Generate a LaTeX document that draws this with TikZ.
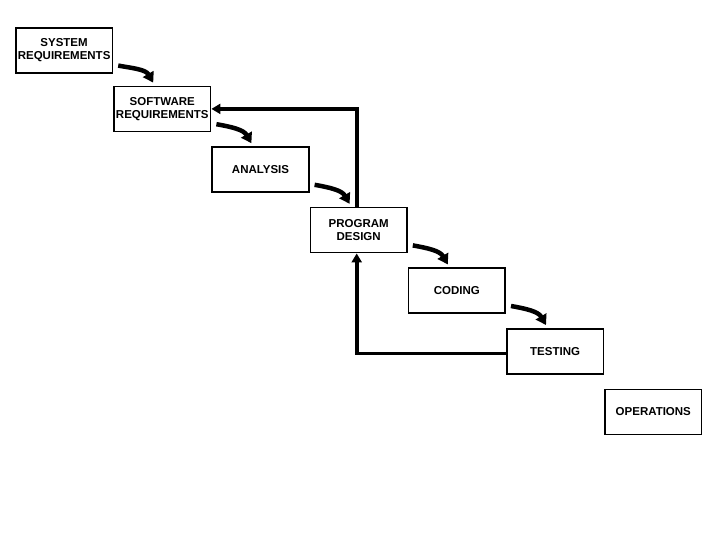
\documentclass[tikz,border=0pt]{standalone}
\usepackage{fontspec}
\setmainfont{Liberation Sans}
\usetikzlibrary{arrows.meta,positioning}

\begin{document}
\begin{tikzpicture}[
  x=1pt,y=-1pt,
  node distance=14pt and 0pt,
  stage/.style={draw,line width=1.6pt,align=center,minimum width=96.6pt,minimum height=45pt,
    inner sep=1pt,font=\fontsize{11.5}{13.5}\selectfont\bfseries},
  flow/.style={line width=4.5pt,-{Triangle[length=10pt,width=12pt]},out=-10,in=120},
  loop/.style={line width=3.6pt,-{Triangle[length=9pt,width=10pt]}}
]
  \useasboundingbox (0,0) rectangle (720,540);
  \node (sysreq) [stage,anchor=north west] at (15,27) {SYSTEM\\REQUIREMENTS};
  \node (swreq) [stage,below right=12pt and 0pt of sysreq] {SOFTWARE\\REQUIREMENTS};
  \node (analysis) [stage,below right=of swreq] {ANALYSIS};
  \node (design) [stage,below right=of analysis] {PROGRAM\\DESIGN};
  \node (coding) [stage,below right=of design] {CODING};
  \node (testing) [stage,below right=of coding] {TESTING};
  \node (operations) [stage,below right=of testing] {OPERATIONS};
  % waterfall steps
  \draw[flow] ([xshift=5pt,yshift=8pt]sysreq.south east) to ([xshift=40pt,yshift=3pt]swreq.north west);
  \draw[flow] ([xshift=5pt,yshift=8pt]swreq.south east) to ([xshift=40pt,yshift=3pt]analysis.north west);
  \draw[flow] ([xshift=5pt,yshift=8pt]analysis.south east) to ([xshift=40pt,yshift=3pt]design.north west);
  \draw[flow] ([xshift=5pt,yshift=8pt]design.south east) to ([xshift=40pt,yshift=3pt]coding.north west);
  \draw[flow] ([xshift=5pt,yshift=8pt]coding.south east) to ([xshift=40pt,yshift=3pt]testing.north west);
  % feedback
  \draw[loop] ([xshift=-2pt]design.north) |- (swreq.east);
  \draw[loop] ([yshift=-2pt]testing.west) -| ([xshift=-2pt]design.south);
\end{tikzpicture}
\end{document}
